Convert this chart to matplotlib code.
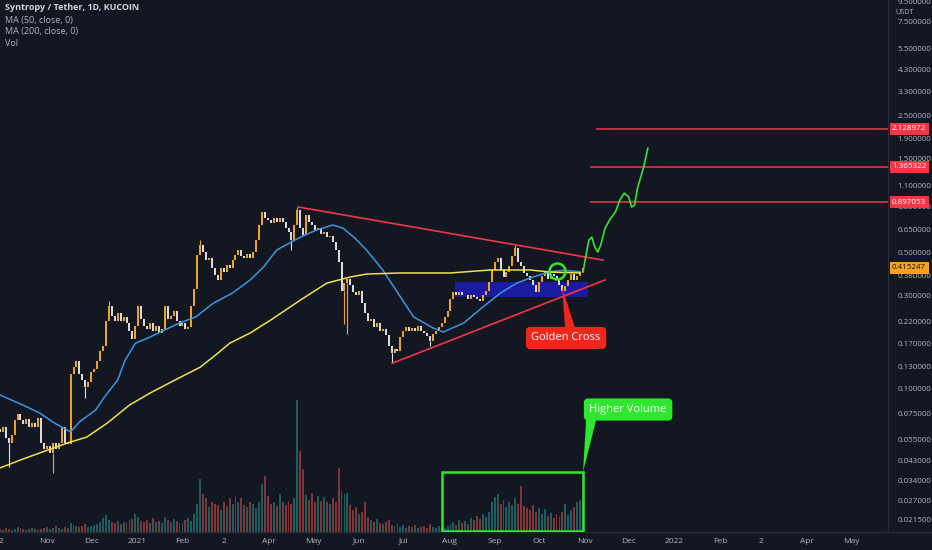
import numpy as np
import pandas as pd
import matplotlib
matplotlib.use('Agg')
import matplotlib.pyplot as plt
from matplotlib.patches import Rectangle, Polygon
from matplotlib.lines import Line2D
from matplotlib.ticker import NullLocator
from matplotlib.transforms import blended_transform_factory

plt.rcParams['font.family'] = ['Open Sans', 'DejaVu Sans']

BG = '#131722'
TXT = '#b2b5be'
UP = '#f5a623'
DOWN = '#e0e0e0'

# one candle per 2 days, day 0 = 2020-10-01
closes = [
    0.060, 0.064, 0.056, 0.053, 0.058, 0.069, 0.074, 0.069, 0.066, 0.070,
    0.064, 0.067, 0.064, 0.071, 0.053, 0.049, 0.051, 0.047, 0.053, 0.049,
    0.053, 0.064, 0.053, 0.052,
    0.119, 0.130, 0.138, 0.119, 0.111, 0.102, 0.109, 0.122, 0.126, 0.138, 0.156, 0.165,
    0.222, 0.266, 0.236, 0.222, 0.245, 0.222, 0.234, 0.218, 0.198, 0.179, 0.210, 0.266,
    0.228, 0.210, 0.202, 0.218, 0.198, 0.210, 0.194, 0.202, 0.266, 0.228, 0.236, 0.251,
    0.222, 0.210, 0.218, 0.202, 0.206, 0.266, 0.325, 0.482, 0.543, 0.500, 0.455, 0.465,
    0.413, 0.380, 0.358, 0.413, 0.394, 0.428, 0.413, 0.455, 0.482, 0.512, 0.476, 0.465,
    0.488, 0.465, 0.500, 0.577, 0.690, 0.805, 0.750, 0.732, 0.700, 0.750, 0.715, 0.750,
    0.715, 0.665, 0.635, 0.577, 0.690, 0.824, 0.665, 0.613, 0.775, 0.715, 0.690, 0.650,
    0.665, 0.620, 0.635, 0.598, 0.605, 0.565, 0.512, 0.443, 0.318, 0.346, 0.366, 0.338,
    0.311, 0.300, 0.318, 0.276, 0.245, 0.222, 0.228, 0.206, 0.218, 0.198, 0.202, 0.188,
    0.165, 0.152, 0.159, 0.156, 0.184, 0.198, 0.206, 0.198, 0.205, 0.198, 0.210, 0.198,
    0.194, 0.186, 0.175, 0.191, 0.198, 0.206, 0.218, 0.234, 0.251, 0.288, 0.311, 0.303,
    0.311, 0.300, 0.303, 0.288, 0.303, 0.296, 0.288, 0.282, 0.300, 0.318, 0.352, 0.404,
    0.443, 0.465, 0.404, 0.371, 0.394, 0.423, 0.476, 0.524, 0.443, 0.423, 0.389, 0.376,
    0.358, 0.341, 0.311, 0.352, 0.376, 0.394, 0.366, 0.385, 0.376, 0.358, 0.341, 0.318,
    0.335, 0.358, 0.385, 0.358, 0.376, 0.394, 0.415,
]
first_open = 0.062

volumes = [
    3, 2, 4, 3, 2, 3, 5, 4, 3, 2, 3, 4, 3, 2, 3, 4, 5, 3, 4, 6, 4, 3, 5, 4,
    9, 7, 6, 5, 6, 8, 5, 6, 7, 8,
    10, 14, 17, 12, 10, 9, 11, 8, 10, 9, 12,
    13, 18, 15, 11, 10, 12, 9, 14, 10, 11, 9, 15, 12, 10, 13, 11, 9, 10, 12, 14, 11, 18, 28,
    52, 37, 33, 25, 30, 28, 27, 22, 30, 26, 33,
    28, 35, 30, 33, 27, 25, 30, 28, 24, 30,
    47, 55, 35, 28, 30, 26, 37, 30, 27, 31, 28,
    33, 130, 80, 62, 36, 32, 38, 30, 35, 31, 34, 30, 28, 33, 30,
    63, 40, 37, 38, 27, 22, 25, 18, 20, 30, 15, 12, 10, 13, 9, 8, 10,
    12, 7, 6, 8, 5, 7, 4, 6, 5, 7, 4, 5, 6, 4, 8, 5, 4, 6, 5, 4, 6,
    8, 10, 7, 12, 9, 11, 8, 14, 12, 16, 13, 18, 15, 20,
    30, 34, 37, 28, 32, 25, 30, 27, 33, 28,
    45, 26, 24, 22, 27, 20, 24, 18, 23, 16, 19, 14, 18, 15, 20, 28, 17, 22, 25, 30, 32, 29,
]

wick_low = {3: 0.040, 18: 0.037, 29: 0.090, 99: 0.51, 117: 0.215, 118: 0.19, 133: 0.135, 146: 0.165}
wick_high = {37: 0.282, 68: 0.577, 101: 0.85, 175: 0.545}

ma50_day = [-1, 13, 26, 36, 47, 53, 64, 70, 79, 84, 91, 101, 111, 121, 132, 144, 157, 169, 178, 187,
            203, 214, 225, 232, 240, 248, 259, 271, 280, 293, 300, 314, 327, 339, 350, 361, 373, 381, 393]
ma50 = [0.0930, 0.0837, 0.0753, 0.0669, 0.0602, 0.0677, 0.0779, 0.0908, 0.111, 0.140,
        0.171, 0.184, 0.200, 0.217, 0.233, 0.274, 0.309, 0.360, 0.419, 0.512,
        0.596, 0.648, 0.687, 0.663, 0.590, 0.512, 0.405, 0.295, 0.233, 0.205,
        0.195, 0.217, 0.262, 0.309, 0.347, 0.373, 0.397, 0.403, 0.397]

ma200_day = [-1, 13, 28, 45, 58, 72, 87, 101, 118, 135, 147, 155, 169, 183, 203, 221, 237, 248,
             271, 305, 332, 359, 373, 393]
ma200 = [0.0394, 0.0433, 0.0476, 0.0529, 0.0567, 0.0669, 0.0826, 0.0952, 0.111, 0.129, 0.152, 0.171,
         0.193, 0.225, 0.284, 0.347, 0.373, 0.386, 0.391, 0.391, 0.405, 0.405, 0.395, 0.391]

# drawings
proj_day = [395, 397, 399, 401, 403, 405, 407, 410, 413, 417, 420, 423, 426, 428, 430, 432, 436, 439]
proj_price = [0.395, 0.482, 0.576, 0.596, 0.530, 0.500, 0.542, 0.663, 0.729, 0.801, 0.921, 1.001,
              0.956, 0.849, 0.869, 1.062, 1.344, 1.696]
upper_line = ([201.5, 408.6], [0.850, 0.455])
lower_line = ([265.3, 409.9], [0.135, 0.360])
targets = [2.128972, 1.365322, 0.897053]
target_start = [404, 400, 400]
last_price = 0.415247

price_ticks = [9.5, 7.5, 5.5, 4.3, 3.3, 2.5, 1.9, 1.5, 1.1, 0.85, 0.65, 0.5, 0.38, 0.3, 0.22,
               0.17, 0.13, 0.1, 0.075, 0.055, 0.043, 0.034, 0.027, 0.0215]
month_labels = ['2', 'Nov', 'Dec', '2021', 'Feb', '2', 'Apr', 'May', 'Jun', 'Jul', 'Aug', 'Sep',
                'Oct', 'Nov', 'Dec', '2022', 'Feb', '2', 'Apr', 'May']

W, H = 932, 550
fig = plt.figure(figsize=(W / 100, H / 100), dpi=100, facecolor=BG)
rect = [0, 18 / H, 888 / W, 532 / H]

axv = fig.add_axes(rect)
axv.set_facecolor(BG)
axv.axis('off')
ax = fig.add_axes(rect)
ax.patch.set_alpha(0)

n = len(closes)
days = -1 + 2 * np.arange(n)
c = np.array(closes)
o = np.r_[first_open, c[:-1]]
up = c >= o
cols = np.where(up, UP, DOWN)

# volume
vcols = np.where(up, '#26a69a', '#ef5350')
axv.bar(days, volumes, width=1.3, color=vcols, alpha=0.5, linewidth=0)
axv.set_ylim(0, max(volumes) * 532 / 132)

# candles
for i, lo in wick_low.items():
    ax.vlines(days[i], lo, min(o[i], c[i]), color=cols[i], lw=0.8, zorder=4)
for i, hi in wick_high.items():
    ax.vlines(days[i], max(o[i], c[i]), hi, color=cols[i], lw=0.8, zorder=4)
ax.vlines(days, np.minimum(o, c), np.maximum(o, c), colors=cols, lw=1.4, zorder=4)

# moving averages
ax.plot(ma50_day, ma50, color='#3a96e0', lw=1.1, zorder=5)
ax.plot(ma200_day, ma200, color='#f0e14a', lw=1.1, zorder=5)

# drawings
ax.add_patch(Rectangle((308, 0.296), 90.4, 0.350 - 0.296, facecolor='#1c1cb0', alpha=0.9,
                       edgecolor='none', zorder=3))
ax.plot(*upper_line, color='#f23645', lw=1.2, zorder=6)
ax.plot(*lower_line, color='#f23645', lw=1.2, zorder=6)
for t, s in zip(targets, target_start):
    ax.hlines(t, s, 700, color='#f23645', lw=1.1, zorder=6)
ax.plot(proj_day, proj_price, color='#38e038', lw=1.2, zorder=6)
ax.plot([377.4], [0.400], 'o', ms=11.5, mfc='none', mec='#2ee82e', mew=1.8, zorder=7)

ax.add_patch(Polygon([(380.8, 0.331), (382.8, 0.2045), (389.6, 0.2045)], closed=True,
                     facecolor='#f0261d', edgecolor='none', zorder=7))
ax.text(383.5, 0.182, 'Golden Cross', color='white', fontsize=8, ha='center', va='center', zorder=8,
        bbox=dict(boxstyle='round,pad=0.5,rounding_size=0.4', fc='#f0261d', ec='none'))

ax.add_patch(Rectangle((299.3, 0.01877), 95.7, 0.0376 - 0.01877, facecolor='none',
                       edgecolor='#2ee82e', lw=1.8, zorder=7))
ax.add_patch(Polygon([(395, 0.0376), (397.1, 0.0693), (403.9, 0.0693)], closed=True,
                     facecolor='#2ee82e', edgecolor='none', zorder=7))
ax.text(425.6, 0.0784, 'Higher Volume', color='white', fontsize=8, ha='center', va='center', zorder=8,
        bbox=dict(boxstyle='round,pad=0.5,rounding_size=0.4', fc='#2ee82e', ec='none'))

# axes
ax.set_yscale('log')
ax.set_ylim(0.01855, 9.71)
ax.set_xlim(-0.92, 602.1)
axv.set_xlim(-0.92, 602.1)
ax.yaxis.tick_right()
ax.set_yticks(price_ticks)
ax.set_yticklabels([f'{t:.6f}' for t in price_ticks])
ax.yaxis.set_minor_locator(NullLocator())
ax.tick_params(axis='y', length=0, pad=7, labelsize=5.8, labelcolor=TXT)

base = pd.Timestamp('2020-10-01')
months = pd.date_range('2020-10-01', '2022-05-01', freq='MS')
ax.set_xticks([(m - base).days for m in months])
ax.set_xticklabels(month_labels)
ax.tick_params(axis='x', length=0, pad=4, labelsize=6, labelcolor=TXT)

for s in ['top', 'left']:
    ax.spines[s].set_visible(False)
for s in ['right', 'bottom']:
    ax.spines[s].set_color('#2a2e39')
fig.add_artist(Line2D([888 / W, 1], [18 / H, 18 / H], color='#2a2e39', lw=0.8))

# price labels on the scale
tr = blended_transform_factory(ax.transAxes, ax.transData)
for t in targets:
    ax.text(1 + 4 / 888, t, f'{t:.6f}', transform=tr, color='white', fontsize=5.8, va='center',
            ha='left', zorder=9, clip_on=False,
            bbox=dict(boxstyle='square,pad=0.3', fc='#f23645', ec='none'))
ax.text(1 + 4 / 888, last_price, f'{last_price:.6f}', transform=tr, color='#131722', fontsize=5.8,
        va='center', ha='left', zorder=9, clip_on=False,
        bbox=dict(boxstyle='square,pad=0.3', fc='#f7a21b', ec='none'))
fig.text(905 / W, 1 - 13 / H, 'USDT', color=TXT, fontsize=5.2, ha='center', va='center')

# legend block
fig.text(5 / W, 1 - 8 / H, 'Syntropy / Tether, 1D, KUCOIN', color='#d1d4dc', fontsize=6.5,
         fontweight='bold', va='center')
fig.text(5 / W, 1 - 20 / H, 'MA (50, close, 0)', color=TXT, fontsize=6.5, va='center')
fig.text(5 / W, 1 - 31.5 / H, 'MA (200, close, 0)', color=TXT, fontsize=6.5, va='center')
fig.text(5 / W, 1 - 43 / H, 'Vol', color=TXT, fontsize=6.5, va='center')

fig.savefig('out.png', dpi=100, facecolor=BG)
